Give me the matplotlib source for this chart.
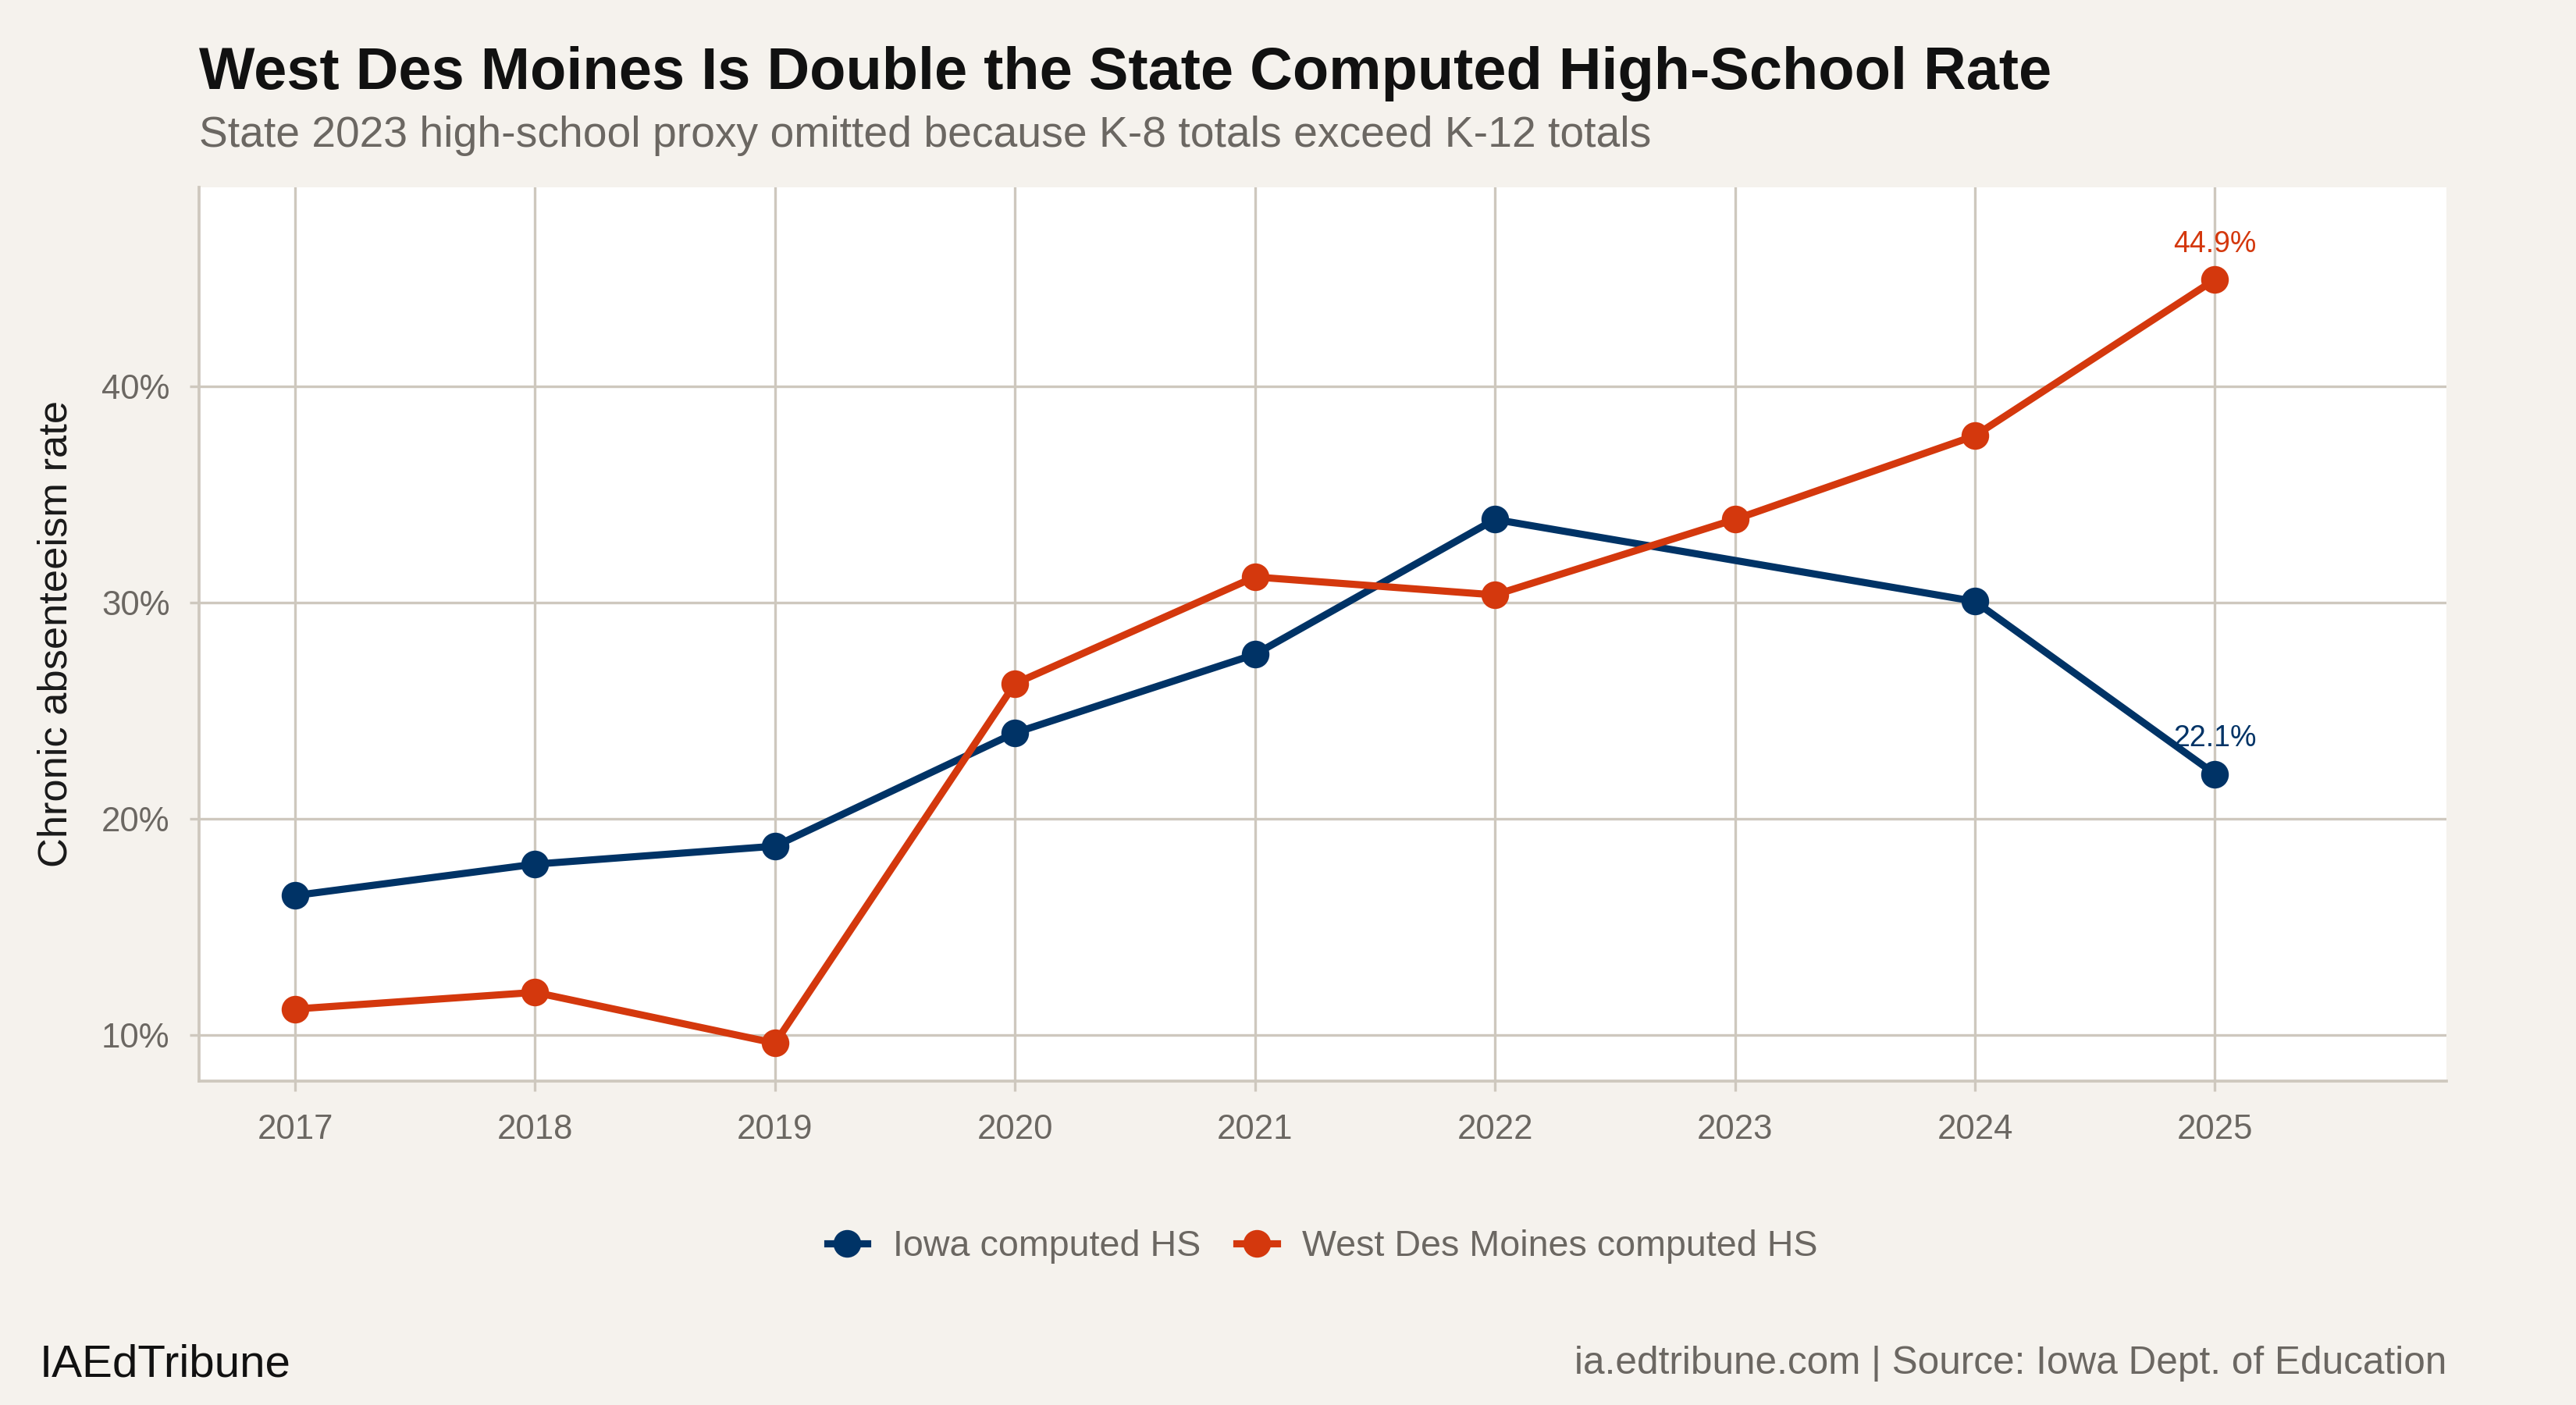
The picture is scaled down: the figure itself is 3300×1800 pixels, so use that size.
import matplotlib.pyplot as plt
from matplotlib.lines import Line2D
from matplotlib.ticker import FuncFormatter

plt.rcParams['font.family'] = ['Liberation Sans', 'DejaVu Sans']

# data
years_iowa = [2017, 2018, 2019, 2020, 2021, 2022, 2024, 2025]
iowa_hs = [16.45, 17.9, 18.73, 23.97, 27.6, 33.84, 30.05, 22.07]

years_wdm = [2017, 2018, 2019, 2020, 2021, 2022, 2023, 2024, 2025]
wdm_hs = [11.2, 11.97, 9.62, 26.25, 31.18, 30.35, 33.84, 37.71, 44.93]

year_ticks = [2017, 2018, 2019, 2020, 2021, 2022, 2023, 2024, 2025]
pct_ticks = [10, 20, 30, 40]

label_iowa = 'Iowa computed HS'
label_wdm = 'West Des Moines computed HS'

NAVY = '#003366'
ORANGE = '#D4380D'
BG = '#F5F2ED'
GRID = '#CEC8BE'
GREY_TXT = '#6B6762'

LW = 2.2
MS = 7.5

fig = plt.figure(figsize=(11, 6), dpi=300, facecolor=BG)
ax = fig.add_axes([0.0773, 0.2306, 0.8724, 0.6361])
ax.set_facecolor('white')

ax.plot(years_iowa, iowa_hs, color=NAVY, lw=LW, marker='o', ms=MS, zorder=3)
ax.plot(years_wdm, wdm_hs, color=ORANGE, lw=LW, marker='o', ms=MS, zorder=3)

# end labels
ax.annotate(f'{iowa_hs[-1]:.1f}%', (years_iowa[-1], iowa_hs[-1]), xytext=(0, 6.5),
            textcoords='offset points', ha='center', va='bottom', fontsize=9, color=NAVY, zorder=4)
ax.annotate(f'{wdm_hs[-1]:.1f}%', (years_wdm[-1], wdm_hs[-1]), xytext=(0, 6.5),
            textcoords='offset points', ha='center', va='bottom', fontsize=9, color=ORANGE, zorder=4)

ax.set_xlim(2016.6, 2025.965)
ax.set_ylim(7.87, 49.2)
ax.set_xticks(year_ticks)
ax.set_yticks(pct_ticks)
ax.yaxis.set_major_formatter(FuncFormatter(lambda v, p: f'{v:.0f}%'))

ax.grid(True, color=GRID, lw=0.8)
ax.set_axisbelow(True)
for s in ['top', 'right']:
    ax.spines[s].set_visible(False)
for s in ['left', 'bottom']:
    ax.spines[s].set_color(GRID)
    ax.spines[s].set_linewidth(0.9)

ax.tick_params(axis='both', colors=GRID, labelcolor=GREY_TXT, labelsize=10.5, length=3, width=0.8)
ax.tick_params(axis='x', pad=7)
ax.tick_params(axis='y', pad=6)

ax.set_ylabel('Chronic absenteeism rate', fontsize=12.6, color='#1a1a1a')
ax.yaxis.set_label_coords(-0.055, 0.5)

fig.text(0.0773, 0.9365, 'West Des Moines Is Double the State Computed High-School Rate',
         fontsize=18.2, fontweight='bold', color='#111111', ha='left', va='baseline')
fig.text(0.0773, 0.8955, 'State 2023 high-school proxy omitted because K-8 totals exceed K-12 totals',
         fontsize=13.25, color=GREY_TXT, ha='left', va='baseline')

handles = [Line2D([], [], color=NAVY, lw=LW, marker='o', ms=MS),
           Line2D([], [], color=ORANGE, lw=LW, marker='o', ms=MS)]
fig.legend(handles, [label_iowa, label_wdm], loc='center', bbox_to_anchor=(0.5134, 0.1128),
           ncol=2, frameon=False, fontsize=11.2, labelcolor=GREY_TXT, handlelength=1.1,
           handletextpad=0.7, columnspacing=1.0)

fig.text(0.0153, 0.0200, 'IAEdTribune', fontsize=14, color='#111111', ha='left', va='baseline')
fig.text(0.9497, 0.0225, 'ia.edtribune.com | Source: Iowa Dept. of Education',
         fontsize=11.9, color=GREY_TXT, ha='right', va='baseline')

fig.savefig('out.png', dpi=300, facecolor=BG)
